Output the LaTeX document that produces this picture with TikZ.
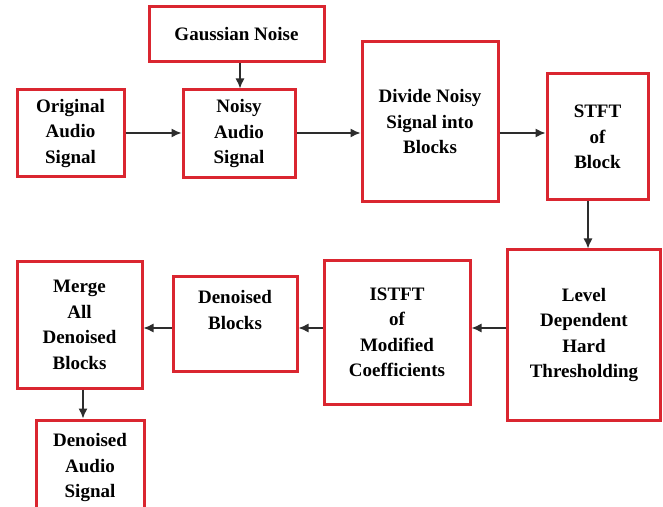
\documentclass[tikz,border=0pt]{standalone}
\usepackage{fontspec}
\setmainfont{Liberation Serif}
\usetikzlibrary{arrows.meta}
\definecolor{boxred}{RGB}{218,38,48}
\definecolor{arrgray}{RGB}{45,45,45}
\tikzset{
  blk/.style={draw=boxred, line width=3pt, fill=white, inner sep=0pt, align=center,
    font=\fontsize{19}{25.5}\selectfont\bfseries, text=black},
  arr/.style={draw=arrgray, line width=1.4pt, -{Latex[length=10pt,width=9pt]}}
}
\begin{document}
\begin{tikzpicture}[x=1pt,y=1pt]
\useasboundingbox[fill=white] (0,0) rectangle (663,506);
% boxes (centre x, 506 - centre y)
\node[blk, minimum width=175, minimum height=55] (gauss) at (236.5,471.5) {Gaussian Noise};
\node[blk, minimum width=107, minimum height=87] (orig) at (70.5,372.5) {Original\\Audio\\Signal};
\node[blk, minimum width=112, minimum height=88] (noisy) at (239,372) {Noisy\\Audio\\Signal};
\node[blk, minimum width=136, minimum height=160] (divide) at (430,384) {Divide Noisy\\Signal into\\Blocks};
\node[blk, minimum width=101, minimum height=126] (stft) at (597.5,369) {STFT\\of\\Block};
\node[blk, minimum width=153, minimum height=170] (level) at (584,171) {Level\\Dependent\\Hard\\Thresholding};
\node[blk, minimum width=146, minimum height=143] (istft) at (397,173.5) {ISTFT\\of\\Modified\\Coefficients};
\node[blk, minimum width=124, minimum height=94] (dblocks) at (235,182) {Denoised\\Blocks\\[3pt]};
\node[blk, minimum width=125, minimum height=126] (merge) at (79.5,181) {Merge\\All\\Denoised\\Blocks};
\node[blk, minimum width=108, minimum height=96] (daudio) at (90,38) {Denoised\\Audio\\Signal};
% connectors
\draw[arr] (gauss.south -| 240,0) -- (noisy.north -| 240,0);
\draw[arr] (orig.east |- 0,373) -- (noisy.west |- 0,373);
\draw[arr] (noisy.east |- 0,373) -- (divide.west |- 0,373);
\draw[arr] (divide.east |- 0,373) -- (stft.west |- 0,373);
\draw[arr] (stft.south -| 588,0) -- (level.north -| 588,0);
\draw[arr] (level.west |- 0,178) -- (istft.east |- 0,178);
\draw[arr] (istft.west |- 0,178) -- (dblocks.east |- 0,178);
\draw[arr] (dblocks.west |- 0,178) -- (merge.east |- 0,178);
\draw[arr] (merge.south -| 83,0) -- (daudio.north -| 83,0);
\end{tikzpicture}
\end{document}
